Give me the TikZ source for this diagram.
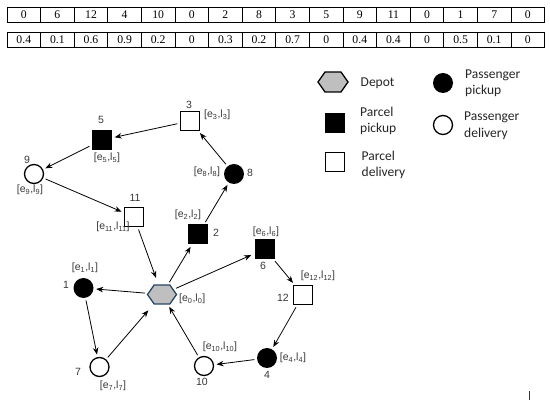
\documentclass[tikz,border=0pt]{standalone}
\usepackage{fontspec}
\setmainfont{Liberation Sans}
\newfontfamily\tabfont{Liberation Serif}
\newfontfamily\legfont{Carlito}
\usetikzlibrary{arrows.meta,shapes.symbols}
\definecolor{lblgray}{RGB}{55,55,55}
\definecolor{depotfill}{RGB}{191,191,191}
\definecolor{depotedge}{RGB}{40,70,100}
\newcommand\elab[1]{[e\textsubscript{#1},l\textsubscript{#1}]}
\begin{document}
\begin{tikzpicture}[x=1pt,y=-1pt,
  cell/.style={draw,line width=0.9pt,minimum width=33.6pt,minimum height=15pt,inner sep=0pt,font=\tabfont\fontsize{11.7}{13}\selectfont},
  ppick/.style={rectangle,fill=black,minimum size=20pt,inner sep=0pt},
  pdel/.style={rectangle,draw,fill=white,line width=1.3pt,minimum size=19pt,inner sep=0pt},
  cpick/.style={circle,fill=black,minimum size=20pt,inner sep=0pt},
  cdel/.style={circle,draw,fill=white,line width=1.3pt,minimum size=19pt,inner sep=0pt},
  depot/.style={signal,signal to=east and west,signal pointer angle=110,minimum width=29pt,minimum height=19pt,inner sep=0pt,fill=depotfill,draw=depotedge,line width=1.3pt},
  lbl/.style={font=\fontsize{10.5}{12}\selectfont,text=lblgray,inner sep=0pt},
  leg/.style={font=\legfont\fontsize{13.5}{16.5}\selectfont,align=left,anchor=west,inner sep=0pt,text=black!85},
  arr/.style={-{Stealth[length=7pt,width=5.5pt]},line width=0.8pt,shorten >=2.5pt,shorten <=2.5pt},
]
\useasboundingbox (0,0) rectangle (550,403);

% tables
\foreach \v [count=\i] in {0,6,12,4,10,0,2,8,3,5,9,11,0,1,7,0}
  \node[cell] (ta\i) at ({7+33.6*(\i-0.5)},14.5) {\v};
\foreach \v [count=\i] in {0.4,0.1,0.6,0.9,0.2,0,0.3,0.2,0.7,0,0.4,0.4,0,0.5,0.1,0}
  \node[cell] (tb\i) at ({7+33.6*(\i-0.5)},40) {\v};

% graph nodes
\node[depot] (n0) at (162,294.5) {};
\node[cpick] (n1) at (83.5,288) {};
\node[cdel]  (n7) at (99.5,367) {};
\node[ppick] (n2) at (198,234.5) {};
\node[cpick] (n8) at (234,174) {};
\node[pdel]  (n3) at (190,121) {};
\node[ppick] (n5) at (102,140) {};
\node[cdel]  (n9) at (34,174) {};
\node[pdel]  (n11) at (134,217) {};
\node[ppick] (n6) at (265,249) {};
\node[pdel]  (n12) at (303,295) {};
\node[cpick] (n4) at (267,358) {};
\node[cdel]  (n10) at (204,366) {};

% labels
\node[lbl] (k3) at (189,105) {3};
\node[lbl,anchor=west] (w3) at (204,115) {\elab{3}};
\node[lbl] (k5) at (101,120) {5};
\node[lbl] (w5) at (107,158) {\elab{5}};
\node[lbl] (k9) at (27,160) {9};
\node[lbl] (w9) at (30,190) {\elab{9}};
\node[lbl] (k8) at (250,173) {8};
\node[lbl] (w8) at (207,172) {\elab{8}};
\node[lbl] (k11) at (135,198) {11};
\node[lbl] (w11) at (113,227) {\elab{11}};
\node[lbl] (k2) at (216,233) {2};
\node[lbl] (w2) at (188,215) {\elab{2}};
\node[lbl] (k6) at (263,266) {6};
\node[lbl] (w6) at (266,232) {\elab{6}};
\node[lbl] (k12) at (283,298) {12};
\node[lbl] (w12) at (318,276) {\elab{12}};
\node[lbl] (k4) at (267,375) {4};
\node[lbl] (w4) at (293,358) {\elab{4}};
\node[lbl] (k10) at (202,382) {10};
\node[lbl] (w10) at (220,347) {\elab{10}};
\node[lbl] (k1) at (66,285) {1};
\node[lbl] (w1) at (85,268) {\elab{1}};
\node[lbl] (k7) at (78,372) {7};
\node[lbl] (w7) at (113,386) {\elab{7}};
\node[lbl,anchor=west] (w0) at (179,299) {\elab{0}};

% connectors
\draw[arr] (n0) -- (n1);
\draw[arr] (n1) -- (n7);
\draw[arr,shorten >=8pt] (n7) -- (n0);
\draw[arr] (n0) -- (n2);
\draw[arr] (n2) -- (n8);
\draw[arr] (n8) -- (n3);
\draw[arr] (n3) -- (n5);
\draw[arr] (n5) -- (n9);
\draw[arr] (n9) -- (n11);
\draw[arr,shorten >=7pt] (n11) -- (n0);
\draw[arr,shorten >=4pt] (n0) -- (n6);
\draw[arr] (n6) -- (n12);
\draw[arr] (n12) -- (n4);
\draw[arr] (n4) -- (n10);
\draw[arr] (n10) -- (n0);

% legend
\node[depot,draw=black,minimum width=30pt,minimum height=20pt] (gd) at (333,82) {};
\node[ppick] (gpp) at (335,123) {};
\node[pdel] (gpd) at (335,162) {};
\node[cpick] (gcp) at (443,83) {};
\node[cdel] (gcd) at (443,125) {};
\node[leg] (td) at (360.5,83) {Depot};
\node[leg] (tpp) at (360,121) {Parcel\\pickup};
\node[leg] (tpd) at (361.5,165) {Parcel\\delivery};
\node[leg] (tcp) at (465,83.5) {Passenger\\pickup};
\node[leg] (tcd) at (464,126) {Passenger\\delivery};

% small mark
\draw[lblgray,line width=0.8pt] (529,391) -- (529,400);
\end{tikzpicture}
\end{document}
